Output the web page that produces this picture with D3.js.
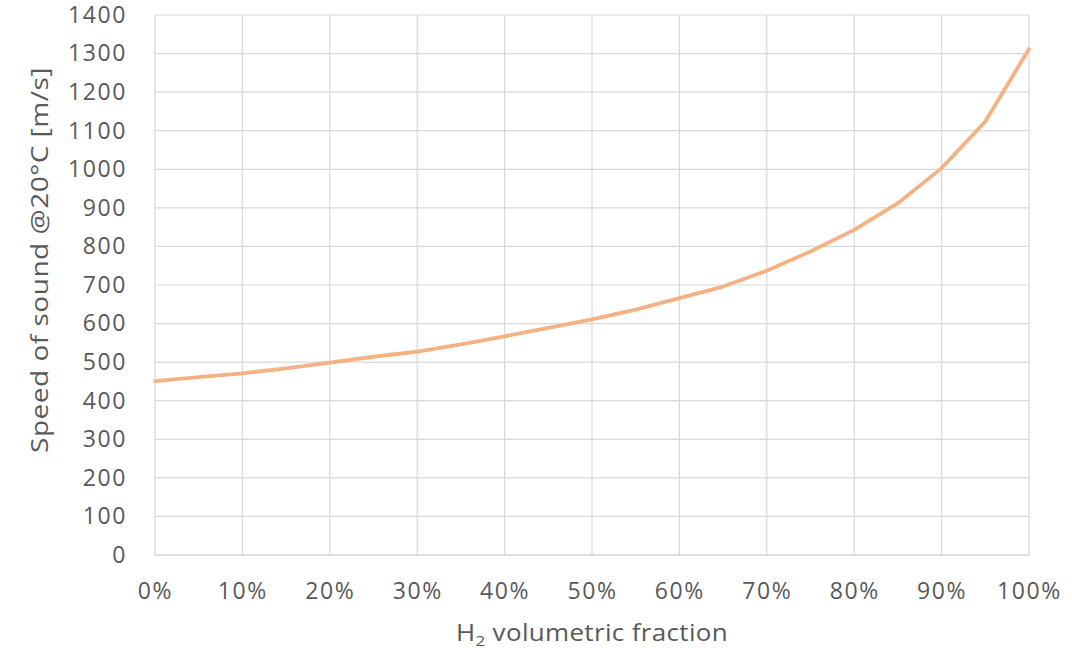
<!DOCTYPE html>
<html>
<head>
<meta charset="utf-8">
<script src="https://cdn.jsdelivr.net/npm/d3@7"></script>
<style>
  html, body { margin: 0; padding: 0; background: #fff; }
  svg { display: block; }
  text { font-family: "Open Sans", Lato, sans-serif; fill: #595959; }
</style>
</head>
<body>
<svg id="chart" width="1072" height="652"></svg>
<script>
// H2 volumetric fraction (%) and speed of sound at 20 °C (m/s)
const fractions = [0, 5, 10, 15, 20, 25, 30, 35, 40, 45, 50, 55, 60, 65, 70, 75, 80, 85, 90, 95, 100];
const speeds = [451, 461, 471, 484, 499, 514, 527, 546, 567, 589, 611, 636, 666, 696, 737, 787, 843, 912, 1003, 1124, 1312];
const xTicks = [0, 10, 20, 30, 40, 50, 60, 70, 80, 90, 100];
const yTicks = [0, 100, 200, 300, 400, 500, 600, 700, 800, 900, 1000, 1100, 1200, 1300, 1400];

const svg = d3.select("#chart");
const plotLeft = 155, plotRight = 1029, plotTop = 15, plotBottom = 555;

const x = d3.scaleLinear().domain([0, 100]).range([plotLeft, plotRight]);
const y = d3.scaleLinear().domain([0, 1400]).range([plotBottom, plotTop]);

// horizontal gridlines
svg.append("g")
  .selectAll("line")
  .data(yTicks.filter(d => d > 0))
  .join("line")
  .attr("x1", plotLeft).attr("x2", plotRight)
  .attr("y1", d => y(d)).attr("y2", d => y(d))
  .attr("stroke", "#d9d9d9").attr("stroke-width", 1.2);

// vertical gridlines
svg.append("g")
  .selectAll("line")
  .data(xTicks)
  .join("line")
  .attr("x1", d => x(d)).attr("x2", d => x(d))
  .attr("y1", plotTop).attr("y2", plotBottom)
  .attr("stroke", "#d9d9d9").attr("stroke-width", 1.2);

// bottom axis line
svg.append("line")
  .attr("x1", plotLeft).attr("x2", plotRight)
  .attr("y1", plotBottom).attr("y2", plotBottom)
  .attr("stroke", "#bfbfbf").attr("stroke-width", 1.2);

const tickStyle = sel => sel
  .style("font-family", "'Open Sans', Lato, sans-serif")
  .style("font-size", "23px").style("letter-spacing", "1.6px")
  .attr("fill", "#595959");

// y tick labels
const yAxis = d3.axisLeft(y).tickValues(yTicks).tickFormat(d3.format("d")).tickSize(0).tickPadding(0);
const gy = svg.append("g").attr("transform", `translate(${plotLeft - 28},0)`).call(yAxis);
gy.select(".domain").remove();
gy.selectAll("text").call(tickStyle);

// x tick labels
const xAxis = d3.axisBottom(x).tickValues(xTicks).tickFormat(d => d + "%").tickSize(0).tickPadding(0);
const gx = svg.append("g").attr("transform", `translate(0,${plotBottom + 28})`).call(xAxis);
gx.select(".domain").remove();
gx.selectAll("text").call(tickStyle);

// the curve
const line = d3.line().x((d, i) => x(fractions[i])).y(d => y(d));
svg.append("path")
  .datum(speeds)
  .attr("d", line)
  .attr("fill", "none")
  .attr("stroke", "#f4b183")
  .attr("stroke-width", 3.8)
  .attr("stroke-linejoin", "round")
  .attr("stroke-linecap", "round");

// axis titles
svg.append("text")
  .attr("transform", `translate(48,260) rotate(-90)`)
  .attr("text-anchor", "middle")
  .attr("textLength", 386).attr("lengthAdjust", "spacingAndGlyphs")
  .style("font-size", "24px").style("letter-spacing", "0.4px")
  .text("Speed of sound @20°C [m/s]");

const xt = svg.append("text")
  .attr("transform", `translate(${(plotLeft + plotRight) / 2},641) scale(1.13,1)`)
  .attr("text-anchor", "middle")
  .style("font-size", "23px").style("letter-spacing", "0.3px");
xt.append("tspan").text("H");
xt.append("tspan").attr("dy", 5).style("font-size", "15px").text("2");
xt.append("tspan").attr("dy", -5).text(" volumetric fraction");
</script>
</body>
</html>
